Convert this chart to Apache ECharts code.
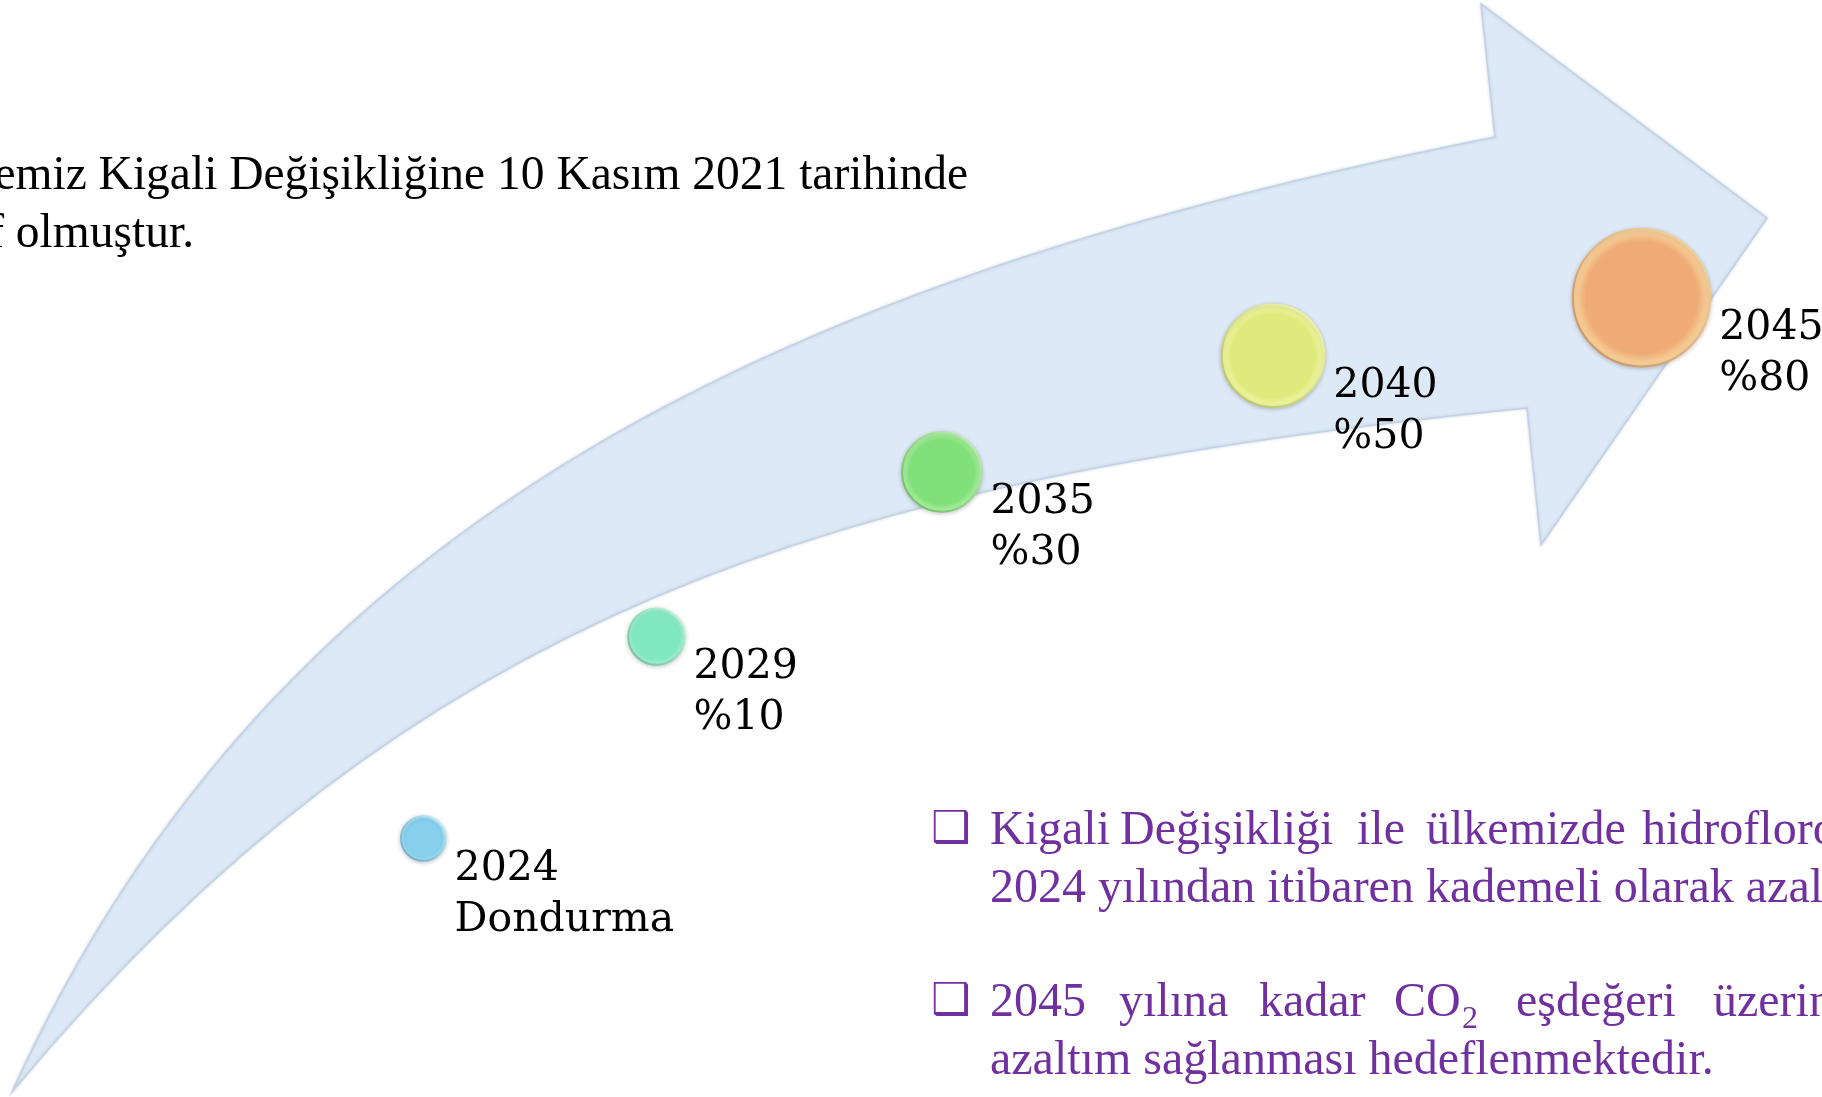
<!DOCTYPE html>
<html>
<head>
<meta charset="utf-8">
<title>Kigali Değişikliği</title>
<script src="https://cdn.jsdelivr.net/npm/echarts@6/dist/echarts.min.js"></script>
<style>
  html, body { margin: 0; padding: 0; background: #fff; }
  #main { width: 1822px; height: 1097px; }
</style>
</head>
<body>
<div id="main"></div>
<script>
// timeline steps
var years = ['2024', '2029', '2035', '2040', '2045'];
var targets = ['Dondurma', '%10', '%30', '%50', '%80'];
var reductionPct = [0, 10, 30, 50, 80];
var dotColors = ['#86d0ee', '#80e9c3', '#80e07a', '#dfea7c', '#eeab76'];
var rimColors = ['#c4f2ff', '#c0fbe4', '#c2f7b4', '#f6fbb0', '#fbdca4'];
var rimShade = ['#5fa9c6', '#5fbf9b', '#62b95d', '#b3bf58', '#c98a5a'];

// slide texts
var introLines = ['emiz Kigali Değişikliğine 10 Kasım 2021 tarihinde', 'f olmuştur.'];
var bullet1 = ['Kigali', 'Değişikliği', 'ile', 'ülkemizde', 'hidroflorokarbon'];
var bullet1b = '2024 yılından itibaren kademeli olarak azaltılması';
var bullet2 = ['2045', 'yılına', 'kadar', 'CO', 'eşdeğeri', 'üzerinden'];
var bullet2b = 'azaltım sağlanması hedeflenmektedir.';

var purple = '#7030a0';
var serif = '"Liberation Serif", "Times New Roman", serif';

// curved arrow outline, drawn behind the dots
var ArrowShape = echarts.graphic.extendShape({
    shape: {},
    buildPath: function (ctx) {
        ctx.moveTo(12, 1092);
        ctx.bezierCurveTo(277, 509, 795, 277, 1495, 137);
        ctx.lineTo(1481, 4);
        ctx.lineTo(1767, 218);
        ctx.lineTo(1541, 545);
        ctx.lineTo(1527, 408);
        ctx.bezierCurveTo(827, 478, 412, 612, 12, 1092);
        ctx.closePath();
    }
});
echarts.graphic.registerShape('kigaliArrow', ArrowShape);

function dotStyle(i) {
    return {
        opacity: 1,
        color: {
            type: 'radial', x: 0.5, y: 0.5, r: 0.5,
            colorStops: [
                { offset: 0, color: dotColors[i] },
                { offset: 0.8, color: dotColors[i] },
                { offset: 1, color: rimColors[i] }
            ]
        },
        borderColor: {
            type: 'linear', x: 1, y: 0, x2: 0, y2: 1,
            colorStops: [
                { offset: 0, color: rimColors[i] },
                { offset: 1, color: rimShade[i] }
            ]
        },
        borderWidth: 2,
        shadowBlur: 4,
        shadowColor: 'rgba(0,0,0,0.2)',
        shadowOffsetY: 1
    };
}

var graphics = [];
graphics.push({
    type: 'kigaliArrow',
    z: 0,
    shape: {},
    style: {
        fill: '#dde9f6',
        stroke: '#c3d2e4',
        lineWidth: 1.5,
        shadowBlur: 3,
        shadowColor: 'rgba(90,120,160,0.25)'
    }
});

// intro text, top left
graphics.push({
    type: 'text', x: 968, y: 177, z: 10,
    style: { text: introLines[0], font: '47.5px ' + serif, fill: '#000', align: 'right', verticalAlign: 'middle' }
});
graphics.push({
    type: 'text', x: 194, y: 235, z: 10,
    style: { text: introLines[1], font: '47.5px ' + serif, fill: '#000', align: 'right', verticalAlign: 'middle' }
});

// bullets
[831, 1003].forEach(function (y) {
    graphics.push({
        type: 'text', x: 931, y: y, z: 10,
        style: { text: '\u2751', font: 'bold 44px "DejaVu Sans"', fill: purple, verticalAlign: 'middle' }
    });
});

var b1x = [990, 1120, 1357, 1426, 1642];
bullet1.forEach(function (w, i) {
    graphics.push({
        type: 'text', x: b1x[i], y: 831, z: 10,
        style: { text: w, font: '48px ' + serif, fill: purple, verticalAlign: 'middle' }
    });
});
graphics.push({
    type: 'text', x: 990, y: 889, z: 10,
    style: { text: bullet1b, font: '48px ' + serif, fill: purple, verticalAlign: 'middle' }
});
var b2x = [990, 1119, 1259, 1394, 1516, 1713];
bullet2.forEach(function (w, i) {
    graphics.push({
        type: 'text', x: b2x[i], y: 1003, z: 10,
        style: { text: w, font: '48px ' + serif, fill: purple, verticalAlign: 'middle' }
    });
});
graphics.push({
    type: 'text', x: 1462, y: 1020, z: 10,
    style: { text: '2', font: '32px ' + serif, fill: purple, verticalAlign: 'middle' }
});
graphics.push({
    type: 'text', x: 990, y: 1061, z: 10,
    style: { text: bullet2b, font: '48px ' + serif, fill: purple, verticalAlign: 'middle' }
});

var hiddenAxis = {
    show: false,
    axisLine: { show: false },
    axisTick: { show: false },
    axisLabel: { show: false },
    splitLine: { show: false }
};

var option = {
    backgroundColor: '#ffffff',
    animation: false,
    graphic: graphics,
    // spiral timeline: each step moves outward and clockwise
    polar: {
        center: [800, 2450],
        radius: [1573, 2393]
    },
    angleAxis: Object.assign({
        type: 'category',
        data: years,
        startAngle: 107.47,
        endAngle: 64.33,
        boundaryGap: true
    }, hiddenAxis),
    radiusAxis: Object.assign({
        type: 'category',
        data: years,
        boundaryGap: true
    }, hiddenAxis),
    series: [
        {
            type: 'scatter',
            coordinateSystem: 'polar',
            z: 5,
            silent: true,
            data: years.map(function (y, i) {
                return { value: [y, y], itemStyle: dotStyle(i) };
            }),
            // bigger reduction target, bigger dot
            symbolSize: function (val, params) {
                return 44.6 + 1.16 * reductionPct[params.dataIndex];
            },
            label: {
                show: true,
                position: 'right',
                distance: 8,
                offset: [0, 56],
                formatter: function (p) {
                    return years[p.dataIndex] + '\n' + targets[p.dataIndex];
                },
                fontFamily: 'DejaVu Serif',
                fontSize: 41,
                lineHeight: 51,
                color: '#000',
                opacity: 1
            }
        }
    ]
};

var myChart = echarts.init(document.getElementById('main'));
myChart.setOption(option);
</script>
</body>
</html>
